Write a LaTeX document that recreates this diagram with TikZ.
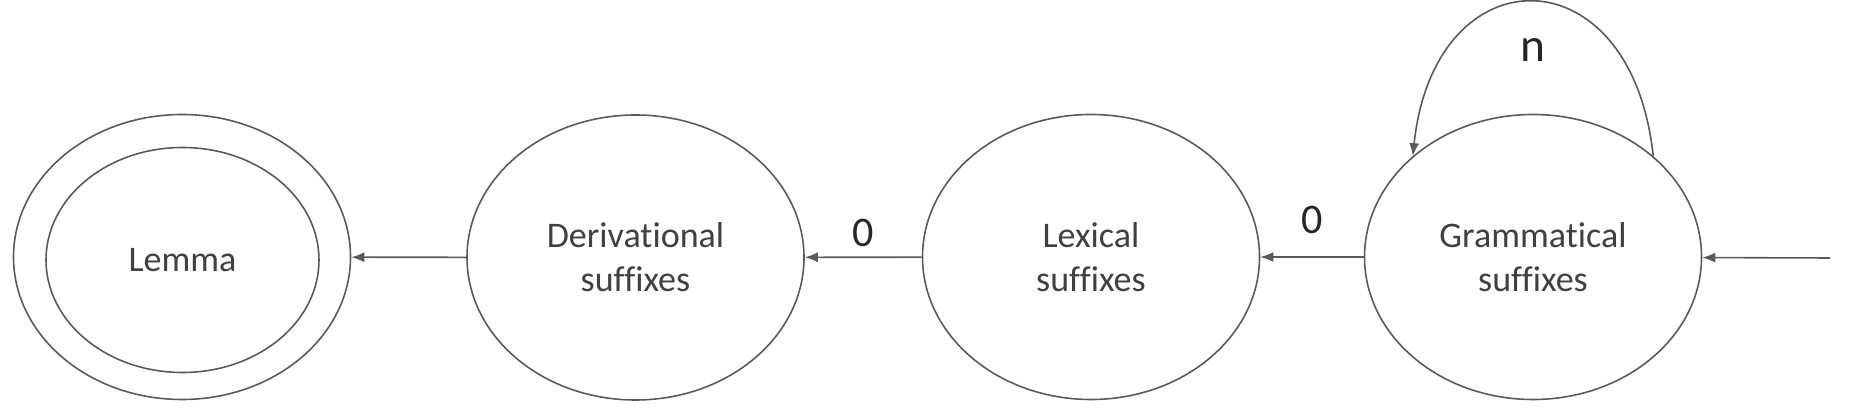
\documentclass[tikz,border=0pt]{standalone}
\usepackage{fontspec}
\setmainfont{Carlito}[Ligatures=NoCommon]
\usetikzlibrary{shapes.geometric,arrows.meta,positioning}

\begin{document}
\begin{tikzpicture}[>={Latex[length=2.6mm,width=2mm]}]

  \useasboundingbox (0,0) rectangle (37.04,8.2);

  \begin{scope}[every node/.style={ellipse,draw=black!65,line width=0.9pt,
      minimum width=6.74cm,minimum height=5.7cm,inner sep=0pt,align=center,
      text=black!75,font=\fontsize{20.5}{25}\selectfont}]
    \node (lemmaout) at (3.64,3.06)  {};
    \node[minimum width=5.46cm,minimum height=4.5cm] (lemma) at (3.65,3.0) {Lemma};
    \node (deriv)    at (12.71,3.05) {Derivational\\suffixes};
    \node (lex)      at (21.82,3.06) {Lexical\\suffixes};
    \node (gram)     at (30.66,3.06) {Grammatical\\suffixes};
  \end{scope}

  \coordinate (start) at (36.6,3.04);

  \begin{scope}[every node/.style={inner sep=0pt,text=black!85,font=\fontsize{24}{29}\selectfont}]

    \begin{scope}[every edge/.style={draw=black!65,line width=0.9pt,->}]
      \path (start)   edge (gram);
      \path (gram)    edge node[above=4.4mm] {0} (lex);
      \path (lex)     edge node[above=2mm] {0} (deriv);
      \path (deriv)   edge (lemmaout);
      \path (gram.40) edge[out=96,in=84,looseness=2.2] node[below=7mm,font=\fontsize{27}{32}\selectfont] {n} (gram.140);
    \end{scope}
  \end{scope}

\end{tikzpicture}
\end{document}
